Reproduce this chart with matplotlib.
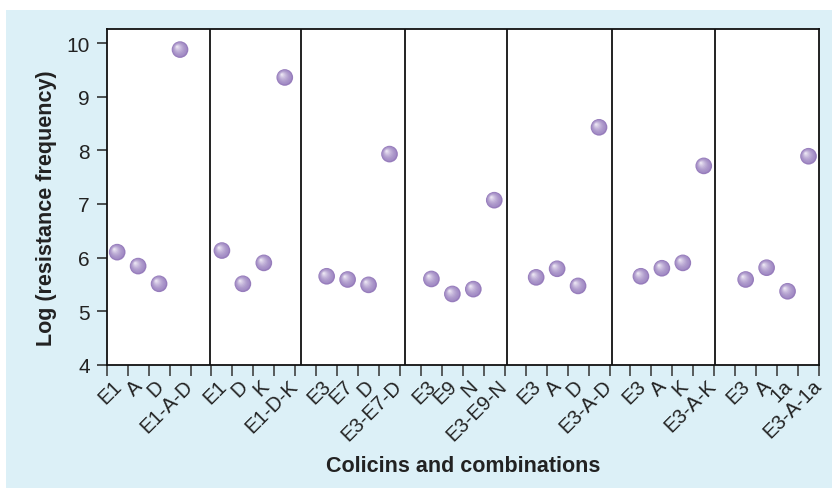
import matplotlib
matplotlib.use("Agg")
import matplotlib.pyplot as plt
import matplotlib.transforms as mtransforms
from matplotlib.patches import Rectangle
import numpy as np

# ---- data ----
group_labels = [
    ["E1", "A", "D", "E1-A-D"],
    ["E1", "D", "K", "E1-D-K"],
    ["E3", "E7", "D", "E3-E7-D"],
    ["E3", "E9", "N", "E3-E9-N"],
    ["E3", "A", "D", "E3-A-D"],
    ["E3", "A", "K", "E3-A-K"],
    ["E3", "A", "1a", "E3-A-1a"],
]
group_values = [
    [6.10, 5.84, 5.51, 9.88],
    [6.13, 5.51, 5.90, 9.36],
    [5.65, 5.59, 5.49, 7.93],
    [5.60, 5.32, 5.41, 7.07],
    [5.63, 5.79, 5.47, 8.43],
    [5.65, 5.80, 5.90, 7.71],
    [5.59, 5.81, 5.37, 7.89],
]
y_ticks = [4, 5, 6, 7, 8, 9, 10]

# ---- layout / style ----
DPI = 100
BG = "#dcf0f7"
PURPLE = "#a28bc4"
panel_edges = [4.95, 9.27, 14.25, 19.12, 24.13, 29.05]
FONT = ["Liberation Sans", "DejaVu Sans"]
plt.rcParams["font.family"] = FONT

fig = plt.figure(figsize=(832 / DPI, 489 / DPI), dpi=DPI, facecolor="white")
fig.patches.append(Rectangle((6 / 832, 0), 1, 1 - 11 / 489, transform=fig.transFigure,
                             facecolor=BG, edgecolor="none", zorder=-10))

ax = fig.add_axes([106.7 / 832, 1 - 365.7 / 489, (819 - 106.7) / 832, 336 / 489])
ax.set_facecolor("white")
ax.set_xlim(0, 34)
ax.set_ylim(4, 10.27)

for s in ax.spines.values():
    s.set_linewidth(1.3)
    s.set_color("#111111")

for e in panel_edges:
    ax.axvline(e, color="#111111", lw=1.3, zorder=1)

# points
xs, ys = [], []
for g, vals in enumerate(group_values):
    for j, v in enumerate(vals):
        xs.append(g * 5 + j + 0.5)
        ys.append(v)
xs = np.array(xs)
ys = np.array(ys)

base_rgb = np.array(matplotlib.colors.to_rgb(PURPLE))
hi_rgb = np.array(matplotlib.colors.to_rgb("#f4f0f9"))
n_layers = 9
d0 = 12.0  # marker diameter in points
ax.scatter(xs, ys, s=d0 ** 2, color="#977dbc", edgecolors="none", zorder=3)
for i in range(1, n_layers + 1):
    t = i / n_layers
    d = d0 * (1 - 0.92 * t) - 0.4
    col = base_rgb * (1 - t ** 1.6) + hi_rgb * t ** 1.6
    tr = mtransforms.offset_copy(ax.transData, fig=fig, x=-2.2 * t, y=2.2 * t, units="points")
    ax.scatter(xs, ys, s=d ** 2, color=col, edgecolors="none", zorder=3 + i, transform=tr)

# ticks
ax.set_yticks(y_ticks)
ax.set_yticklabels([str(v) for v in y_ticks], fontsize=15)
ax.set_xticks(np.arange(0, 35))
ax.set_xticklabels([])
ax.tick_params(axis="y", length=7.2, width=1.1, pad=5, colors="#222222", labelcolor="#222222")
ax.tick_params(axis="x", length=8, width=1.1, colors="#333333")

# x category labels
blend = mtransforms.blended_transform_factory(ax.transData, ax.transAxes)
for g, labs in enumerate(group_labels):
    for j, lab in enumerate(labs):
        x = g * 5 + j + 0.5
        dx_px = 3 if j == 3 else -5
        tr = blend + mtransforms.ScaledTranslation(dx_px / DPI, -11 / DPI, fig.dpi_scale_trans)
        ax.text(x, 0, lab, transform=tr, rotation=45, rotation_mode="anchor",
                ha="right", va="top", fontsize=14.5, color="#222222")

ax.set_ylabel("Log (resistance frequency)", fontsize=15.5, fontweight="bold", color="#222222")
ax.yaxis.set_label_coords((57 - 106.7) / 712.3, (365.7 - 208) / 336)
ax.set_xlabel("Colicins and combinations", fontsize=15.5, fontweight="bold", color="#222222")
ax.xaxis.set_label_coords(0.5, (365.7 - 456) / 336)

fig.savefig("out.png", dpi=DPI, facecolor="white")
